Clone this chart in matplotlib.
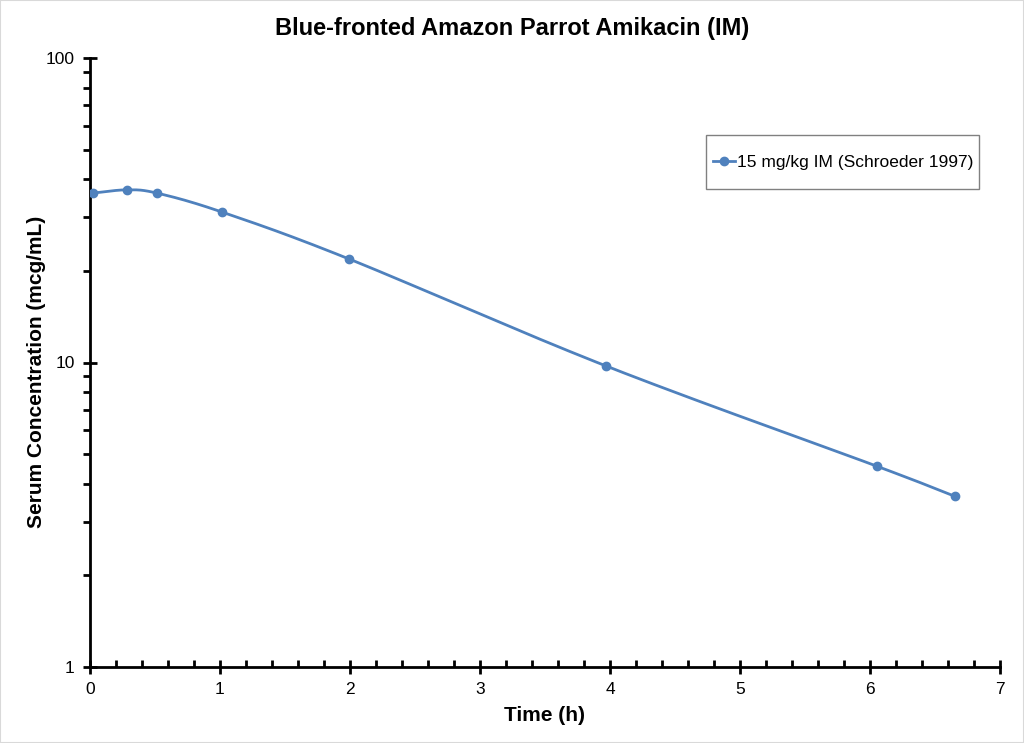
import numpy as np
import matplotlib
matplotlib.use("Agg")
import matplotlib.pyplot as plt
from matplotlib.ticker import LogLocator, FixedLocator, NullFormatter, MultipleLocator

plt.rcParams['font.family'] = ['Liberation Sans', 'DejaVu Sans']

time_h = [0.02, 0.285, 0.515, 1.015, 1.99, 3.97, 6.05, 6.65]
conc = [36.0, 36.9, 36.0, 31.2, 21.9, 9.74, 4.57, 3.64]
series_label = "15 mg/kg IM (Schroeder 1997)"
title = "Blue-fronted Amazon Parrot Amikacin (IM)"
xlabel = "Time (h)"
ylabel = "Serum Concentration (mcg/mL)"
color = "#4F81BD"

fig = plt.figure(figsize=(10.24, 7.43), dpi=100)
ax = fig.add_axes([90/1024, 76/743, 910/1024, 609/743])
ax.set_yscale('log')
ax.set_xlim(0, 7)
ax.set_ylim(1, 100)

# smooth curve (Catmull-Rom in x / log y space) through the data points
px = np.array(time_h)
py = np.log10(np.array(conc))
P = np.column_stack([px, py])
Pext = np.vstack([2*P[0]-P[1], P, 2*P[-1]-P[-2]])
curve = []
for i in range(1, len(Pext)-2):
    p0, p1, p2, p3 = Pext[i-1], Pext[i], Pext[i+1], Pext[i+2]
    t = np.linspace(0, 1, 30)[:, None]
    c1 = p1 + (p2 - p0) / 6
    c2 = p2 - (p3 - p1) / 6
    b = (1-t)**3*p1 + 3*(1-t)**2*t*c1 + 3*(1-t)*t**2*c2 + t**3*p2
    curve.append(b)
curve = np.vstack(curve)
ax.plot(curve[:, 0], 10**curve[:, 1], color=color, lw=2, zorder=3)
ax.plot(time_h, conc, 'o', color=color, ms=6, zorder=4)
# legend proxy
ax.plot([], [], '-o', color=color, lw=2, ms=6, label=series_label)

for s in ['top', 'right']:
    ax.spines[s].set_visible(False)
for s in ['left', 'bottom']:
    ax.spines[s].set_linewidth(2)

ax.yaxis.set_major_locator(FixedLocator([1, 10, 100]))
ax.set_yticklabels(['1', '10', '100'])
ax.yaxis.set_minor_locator(LogLocator(base=10, subs=np.arange(2, 10)))
ax.yaxis.set_minor_formatter(NullFormatter())
ax.xaxis.set_major_locator(MultipleLocator(1))
ax.xaxis.set_minor_locator(MultipleLocator(0.2))

ax.tick_params(axis='y', which='major', direction='inout', length=10, width=2, labelsize=12.5, pad=6)
ax.tick_params(axis='y', which='minor', direction='out', length=5, width=2)
ax.tick_params(axis='x', which='major', direction='inout', length=10, width=2, labelsize=12.5, pad=6)
ax.tick_params(axis='x', which='minor', direction='in', length=5, width=2)

fig.text(0.5, (743-29)/743, title, fontsize=17, fontweight='bold', ha='center', va='center')
ax.set_xlabel(xlabel, fontsize=15, fontweight='bold', labelpad=6)
ax.set_ylabel(ylabel, fontsize=15, fontweight='bold')
ax.yaxis.set_label_coords(46/1024, 0.5, transform=fig.transFigure)

# legend box drawn separately to match the tight horizontal / loose vertical padding
box = plt.Rectangle((706/1024, (743-189)/743), 273/1024, 54/743,
                    transform=fig.transFigure, fill=True, facecolor='white',
                    edgecolor='#808080', lw=1, zorder=5, clip_on=False)
ax.add_patch(box)
leg = ax.legend(loc='center left', bbox_to_anchor=(713/1024, (743-162)/743), bbox_transform=fig.transFigure,
                fontsize=12.5, frameon=False, borderpad=0, handlelength=1.25,
                handletextpad=0.15, borderaxespad=0)
leg.set_zorder(6)

fig.patches.append(plt.Rectangle((0, 0), 1, 1, transform=fig.transFigure, fill=False,
                                 edgecolor='#d9d9d9', lw=1.5))
fig.savefig('out.png', dpi=100)
